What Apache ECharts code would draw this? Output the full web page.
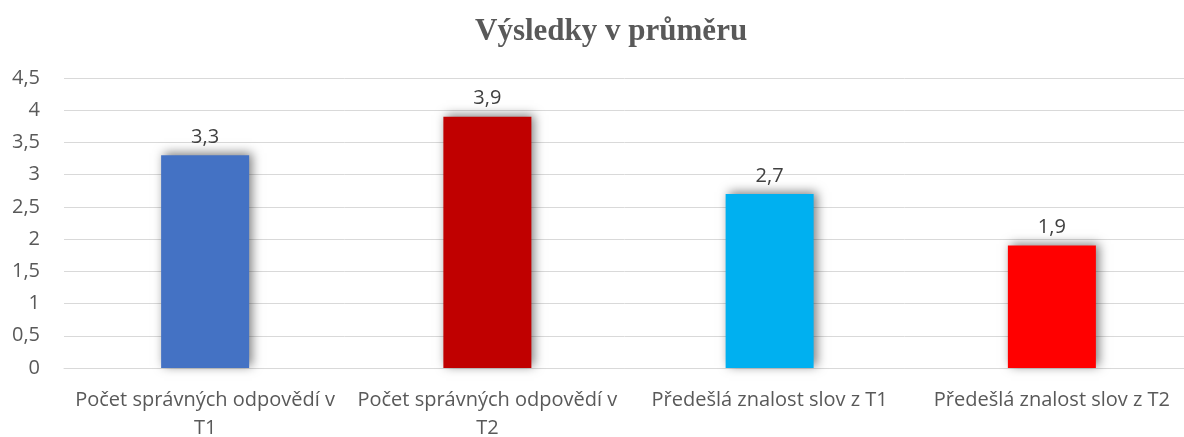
<!DOCTYPE html>
<html>
<head>
<meta charset="utf-8">
<script src="https://cdn.jsdelivr.net/npm/echarts@6/dist/echarts.min.js"></script>
<style>
  html, body { margin: 0; padding: 0; background: #fff; }
  #chart { width: 1184px; height: 437px; }
</style>
</head>
<body>
<div id="chart"></div>
<script>
// kategorie a průměrné hodnoty
var categories = [
  "Počet správných odpovědí v T1",
  "Počet správných odpovědí v T2",
  "Předešlá znalost slov z T1",
  "Předešlá znalost slov z T2"
];
var values = [3.3, 3.9, 2.7, 1.9];
var barColors = ["#4472C4", "#C00000", "#00B0F0", "#FF0000"];
var yTicks = [0, 0.5, 1, 1.5, 2, 2.5, 3, 3.5, 4, 4.5];

function comma(v) {
  return String(v).replace(".", ",");
}

// zalomení popisku po slovech (max. počet znaků na řádek)
function wrap(text, maxLen) {
  var words = text.split(" ");
  var lines = [];
  var cur = "";
  words.forEach(function (w) {
    var next = cur ? cur + " " + w : w;
    if (next.length > maxLen && cur) {
      lines.push(cur);
      cur = w;
    } else {
      cur = next;
    }
  });
  if (cur) lines.push(cur);
  return lines.join("\n");
}

var chart = echarts.init(document.getElementById("chart"));
chart.setOption({
  animation: false,
  title: {
    text: "Výsledky v průměru",
    left: 470,
    top: 11,
    textStyle: {
      fontFamily: "Liberation Serif",
      fontWeight: "bold",
      fontSize: 31,
      color: "#595959"
    }
  },
  grid: {
    left: 64,
    top: 78,
    width: 1129,
    height: 290,
    containLabel: false,
    outerBoundsMode: "none"
  },
  xAxis: {
    type: "category",
    data: categories,
    axisTick: { show: false },
    axisLine: { lineStyle: { color: "#d9d9d9", width: 1 } },
    axisLabel: {
      interval: 0,
      hideOverlap: false,
      margin: 18,
      lineHeight: 28,
      fontFamily: "Open Sans",
      fontSize: 20,
      color: "#595959",
      formatter: function (v) { return wrap(v, 26); }
    }
  },
  yAxis: {
    type: "value",
    min: yTicks[0],
    max: yTicks[yTicks.length - 1],
    interval: 0.5,
    axisLine: { show: false },
    axisTick: { show: false },
    axisLabel: {
      margin: 24,
      fontFamily: "Open Sans",
      fontSize: 20,
      color: "#595959",
      formatter: comma
    },
    splitLine: { lineStyle: { color: "#d9d9d9", width: 1 } }
  },
  series: [
    {
      type: "bar",
      barWidth: 88,
      data: values.map(function (v, i) {
        return {
          value: v,
          itemStyle: { color: barColors[i] }
        };
      }),
      itemStyle: {
        shadowBlur: 10,
        shadowColor: "rgba(0,0,0,0.5)",
        shadowOffsetX: 3,
        shadowOffsetY: -2
      },
      label: {
        show: true,
        position: "top",
        distance: 8,
        fontFamily: "Open Sans",
        fontSize: 20,
        color: "#404040",
        formatter: function (p) { return comma(p.value); }
      }
    }
  ]
});
</script>
</body>
</html>
